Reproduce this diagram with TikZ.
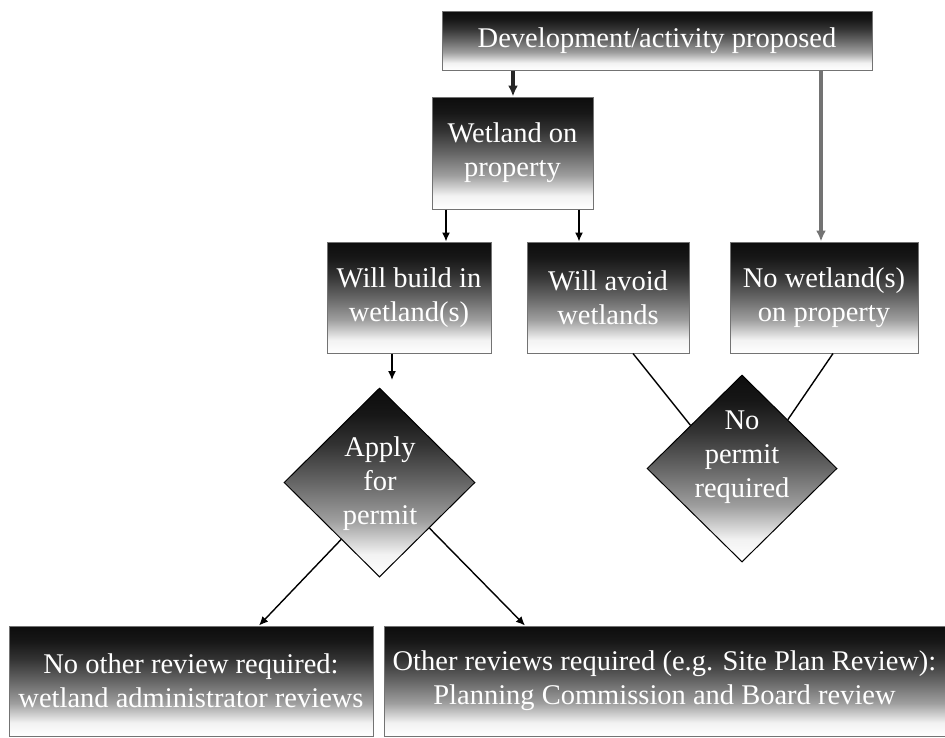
\documentclass[tikz,border=0pt]{standalone}
\usepackage{fontspec}
\setmainfont{Liberation Serif}
\usetikzlibrary{shapes.geometric,arrows.meta,calc}
\pgfdeclareverticalshading{boxshade}{100bp}{color(0bp)=(white); color(25bp)=(white); color(31bp)=(black!5); color(40bp)=(black!38); color(50bp)=(black!60); color(60bp)=(black!80); color(68bp)=(black!91); color(75bp)=(black!95); color(100bp)=(black!95)}
\begin{document}
\begin{tikzpicture}[x=1pt,y=-1pt,
  txtfont/.style={font=\fontsize{28.5}{34}\selectfont},
  box/.style={rectangle, draw=black!55, line width=1pt, shading=boxshade, text=white, txtfont, align=center, inner sep=0pt},
  diam/.style={diamond, aspect=1, draw=black, line width=1pt, shading=boxshade, inner sep=0pt, minimum width=191pt, minimum height=189pt},
  txt/.style={text=white, txtfont, align=center, inner sep=0pt},
  arr/.style={-{Latex[length=9pt,width=8pt]}, line width=1.4pt, draw=black},
  thickarr/.style={-{Latex[length=11pt,width=10pt]}, line width=3.4pt},
  link/.style={line width=1.4pt, draw=black}]
\useasboundingbox (0,0) rectangle (945,737);
\fill[white] (0,0) rectangle (945,737);

\node[box, minimum width=430pt, minimum height=59pt] (dev) at (657,40.5) {Development/activity proposed};
\node[box, minimum width=161pt, minimum height=112pt] (wet) at (512.5,153) {Wetland on\\property};
\node[box, minimum width=164pt, minimum height=111pt] (build) at (409,297.5) {Will build in\\wetland(s)};
\node[box, minimum width=162pt, minimum height=111pt] (avoid) at (608,297.5) {Will avoid\\wetlands};
\node[box, minimum width=188pt, minimum height=111pt] (nowet) at (824,297.5) {No wetland(s)\\on property};
\node[diam] (apply) at (379.5,482.5) {};
\node[txt] (applyt) at (380,484) {Apply\\for\\permit};
\node[diam, minimum width=190pt, minimum height=187pt] (noperm) at (742,468.5) {};
\node[txt] (nopermt) at (742,457) {No\\permit\\required};
\node[box, minimum width=364pt, minimum height=110pt] (rev0) at (191,681) {No other review required:\\wetland administrator reviews};
\node[box, minimum width=561pt, minimum height=110pt] (rev1) at (664.5,681) {Other reviews required (e.g. Site Plan Review):\\Planning Commission and Board review};

\coordinate (gx1) at (513,0);
\coordinate (gx2) at (821,0);
\coordinate (gx3) at (446,0);
\coordinate (gx4) at (579,0);
\coordinate (gx5) at (392,0);
\coordinate (gx6) at (633,0);
\coordinate (gx7) at (833,0);
\coordinate (gx8) at (259,0);
\coordinate (gx9) at (525,0);
\coordinate (wbend) at (392,380);

\draw[thickarr, draw=black!85] (dev.south -| gx1) -- (wet.north -| gx1);
\draw[thickarr, draw=black!55] (dev.south -| gx2) -- (nowet.north -| gx2);
\draw[arr] (wet.south -| gx3) -- (build.north -| gx3);
\draw[arr] (wet.south -| gx4) -- (avoid.north -| gx4);
\draw[arr] (build.south -| gx5) -- (wbend);
\draw[link] (avoid.south -| gx6) -- ($(noperm.north)!0.54!(noperm.west)$);
\draw[link] (nowet.south -| gx7) -- ($(noperm.north)!0.48!(noperm.east)$);
\draw[arr] ($(apply.west)!0.6!(apply.south)$) -- (rev0.north -| gx8);
\draw[arr] ($(apply.south)!0.52!(apply.east)$) -- (rev1.north -| gx9);
\end{tikzpicture}
\end{document}
